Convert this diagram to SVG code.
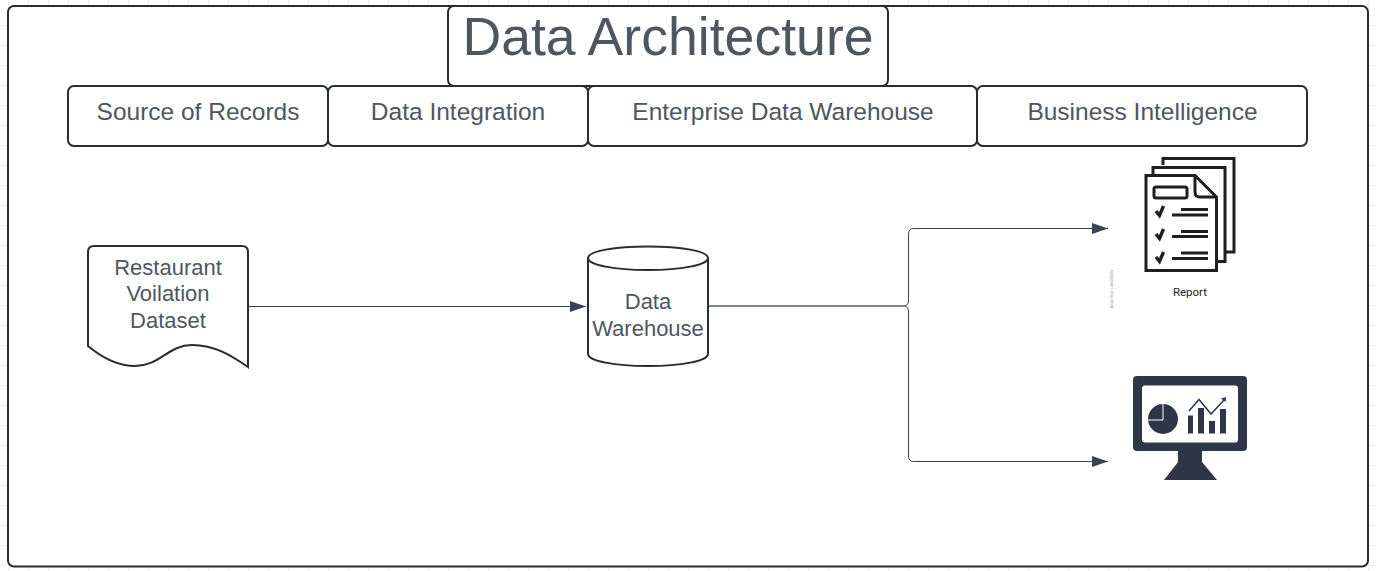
<svg xmlns="http://www.w3.org/2000/svg" width="1376" height="571" viewBox="0 0 1376 571">
<style>
.box{fill:#fff;stroke:#282c33;stroke-width:2}
.t{font-family:"Liberation Sans",Arial,sans-serif;fill:#4f5660;text-anchor:middle}
.h{font-size:24.5px}
.c{fill:none;stroke:#3a414a;stroke-width:1}
.k{fill:none;stroke:#1f1f1f;stroke-width:3}
.m{fill:#2e3648}
.g{stroke:#eeeeee;stroke-width:1}
</style>
<defs>
<marker id="arrow" markerUnits="userSpaceOnUse" markerWidth="18" markerHeight="12" refX="16" refY="5.5" orient="auto"><path d="M0 0L16 5.500L0 11Z" fill="#3a4350"/></marker>
</defs>
<rect width="1376" height="571" fill="#fff"/>
<g id="grid">
<path class="g" d="M8.500 0V571M28.500 0V571M48.500 0V571M68.500 0V571M88.500 0V571M108.500 0V571M128.500 0V571M148.500 0V571M168.500 0V571M188.500 0V571M208.500 0V571M228.500 0V571M248.500 0V571M268.500 0V571M288.500 0V571M308.500 0V571M328.500 0V571M348.500 0V571M368.500 0V571M388.500 0V571M408.500 0V571M428.500 0V571M448.500 0V571M468.500 0V571M488.500 0V571M508.500 0V571M528.500 0V571M548.500 0V571M568.500 0V571M588.500 0V571M608.500 0V571M628.500 0V571M648.500 0V571M668.500 0V571M688.500 0V571M708.500 0V571M728.500 0V571M748.500 0V571M768.500 0V571M788.500 0V571M808.500 0V571M828.500 0V571M848.500 0V571M868.500 0V571M888.500 0V571M908.500 0V571M928.500 0V571M948.500 0V571M968.500 0V571M988.500 0V571M1008.500 0V571M1028.500 0V571M1048.500 0V571M1068.500 0V571M1088.500 0V571M1108.500 0V571M1128.500 0V571M1148.500 0V571M1168.500 0V571M1188.500 0V571M1208.500 0V571M1228.500 0V571M1248.500 0V571M1268.500 0V571M1288.500 0V571M1308.500 0V571M1328.500 0V571M1348.500 0V571M1368.500 0V571"/>
<path class="g" d="M0 25.500H1376M0 45.500H1376M0 65.500H1376M0 85.500H1376M0 105.500H1376M0 125.500H1376M0 145.500H1376M0 165.500H1376M0 185.500H1376M0 205.500H1376M0 225.500H1376M0 245.500H1376M0 265.500H1376M0 285.500H1376M0 305.500H1376M0 325.500H1376M0 345.500H1376M0 365.500H1376M0 385.500H1376M0 405.500H1376M0 425.500H1376M0 445.500H1376M0 465.500H1376M0 485.500H1376M0 505.500H1376M0 525.500H1376M0 545.500H1376M0 565.500H1376"/>
</g>
<g id="frame"><rect class="box" x="8" y="6" width="1360" height="560.500" rx="6"/></g>
<g id="title"><rect class="box" x="448" y="6" width="440" height="80" rx="6"/><text class="t" x="668" y="55" font-size="53.600">Data Architecture</text></g>
<g id="source-of-records"><rect class="box" x="68" y="86" width="260" height="60" rx="6"/><text class="t h" x="198" y="120">Source of Records</text></g>
<g id="data-integration"><rect class="box" x="328" y="86" width="260" height="60" rx="6"/><text class="t h" x="458" y="120">Data Integration</text></g>
<g id="enterprise-data-warehouse"><rect class="box" x="588" y="86" width="389" height="60" rx="6"/><text class="t h" x="783" y="120">Enterprise Data Warehouse</text></g>
<g id="business-intelligence"><rect class="box" x="977" y="86" width="330" height="60" rx="6"/><text class="t h" x="1142.500" y="120">Business Intelligence</text></g>
<g id="connectors">
<path class="c" d="M248 306.500H586" marker-end="url(#arrow)"/>
<path class="c" style="stroke-width:1.500;stroke:#555b65" d="M708 306H905"/>
<path class="c" d="M905 306Q908.500 305 908.500 301V234Q908.500 228.500 914 228.500H1108" marker-end="url(#arrow)"/>
<path class="c" d="M905 306Q908.500 307 908.500 311V456Q908.500 461.500 914 461.500H1108" marker-end="url(#arrow)"/>
</g>
<g id="restaurant-dataset">
<path class="box" d="M88 252Q88 246 94 246H242Q248 246 248 252V367C232 356 215 345 192 345C168 345 160 366 135 366C115 366 100 356 88 346Z"/>
<text class="t" font-size="22" x="168" y="274.500">Restaurant</text>
<text class="t" font-size="22" x="168" y="301">Voilation</text>
<text class="t" font-size="22" x="168" y="327.500">Dataset</text>
</g>
<g id="data-warehouse">
<path class="box" d="M588 258C588 251 615 246.500 648 246.500C681 246.500 708 251 708 258V354C708 361 681 366 648 366C615 366 588 361 588 354Z"/>
<path class="box" style="fill:none" d="M588 258C588 265 615 270 648 270C681 270 708 265 708 258"/>
<text class="t" font-size="22" x="648" y="309">Data</text>
<text class="t" font-size="22" x="648" y="336">Warehouse</text>
</g>
<g id="report">
<path class="k" d="M1163 165V158.500H1234V252H1226"/>
<path class="k" d="M1153 175V167.500H1225V261.500H1217"/>
<path d="M1146 175.500H1195L1216.500 197V270.500H1146Z" fill="#fff" stroke="#1f1f1f" stroke-width="3"/>
<path class="k" d="M1195 175.500V192Q1195 197 1200 197H1216.500"/>
<rect class="k" x="1154" y="187" width="33" height="11" rx="2"/>
<path class="k" style="stroke-width:3.400" d="M1156 211L1159.500 215.500L1163.500 206M1156 234L1159.500 238.500L1163.500 229M1156 257L1159.500 261.500L1163.500 252"/>
<path class="k" d="M1181 209.500H1208M1172 215H1208M1181 231.500H1208M1172 236.500H1208M1181 253H1208M1172 258.500H1208"/>
<text x="1190" y="296" font-family="Roboto,'Liberation Sans',sans-serif" font-size="11.500" fill="#222" text-anchor="middle">Report</text>
<text transform="translate(1113 308) rotate(-90)" font-family="'Liberation Sans',sans-serif" font-size="3.200" fill="#8a8a8a">Adobe Stock | #465795692</text>
</g>
<g id="dashboard">
<rect class="m" x="1133" y="376" width="114" height="75" rx="4"/>
<path class="m" d="M1178 450H1202V462L1217 480H1164L1178 462Z"/>
<rect x="1142" y="385.500" width="96" height="57" rx="3" fill="#fff"/>
<circle class="m" cx="1163" cy="419" r="15"/>
<path fill="none" stroke="#fff" stroke-width="1" d="M1163 404V420H1148"/>
<path class="m" d="M1188 415.500H1193V433.500H1188ZM1198 408H1204V433.500H1198ZM1209 421H1215V433.500H1209ZM1220 409H1226V433.500H1220Z"/>
<path fill="none" stroke="#2e3648" stroke-width="1.500" d="M1189 411L1199 399.500L1211 414L1224 400"/>
<path class="m" d="M1221 398.500L1226 397L1225.500 402Z"/>
</g>
</svg>
